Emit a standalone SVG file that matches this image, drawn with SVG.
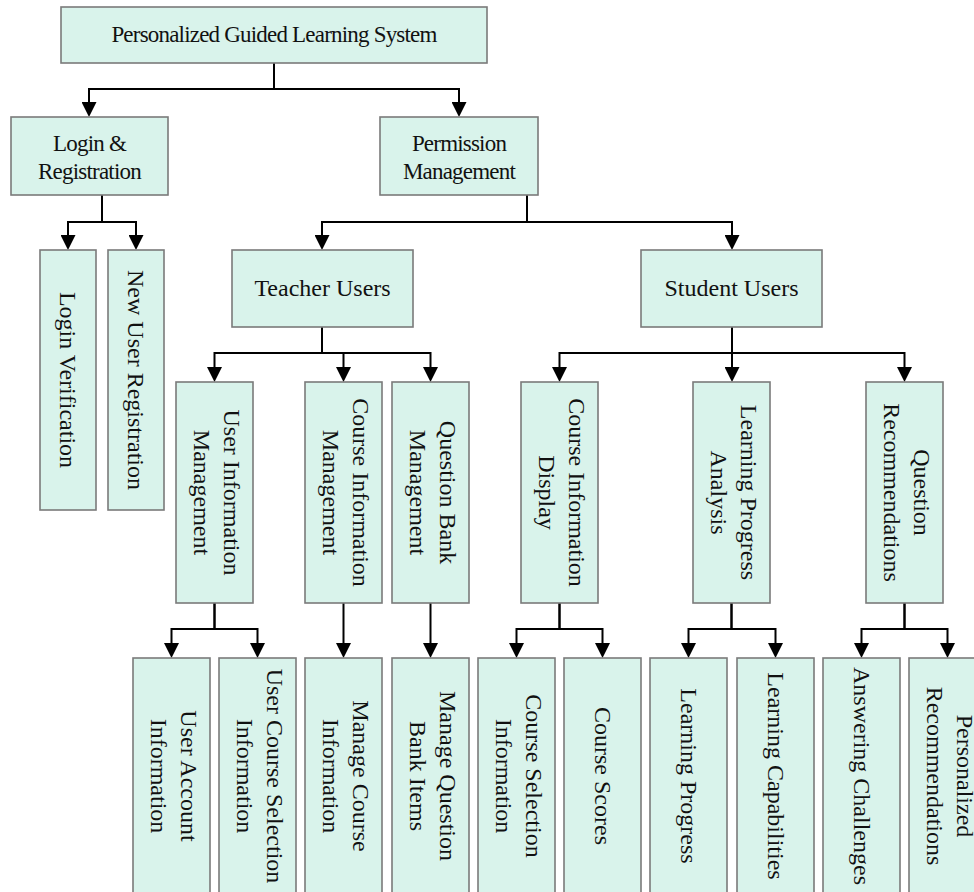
<svg xmlns="http://www.w3.org/2000/svg" width="974" height="892" viewBox="0 0 974 892">
  <style>
    .box { fill: #d9f3eb; stroke: #7a7a7a; stroke-width: 1.6; }
    .t { font-family: "Liberation Serif", "Times New Roman", serif; font-size: 24px; fill: #111; text-anchor: middle; }
    .ts { font-size: 23px; letter-spacing: -0.8px; }
    .link { fill: none; stroke: #000; stroke-width: 2; marker-end: url(#arr); }
  </style>
  <defs>
    <marker id="arr" viewBox="0 0 15 15" refX="12" refY="7.5" markerWidth="15" markerHeight="15" markerUnits="userSpaceOnUse" orient="auto">
      <path d="M0,0 L15,7.5 L0,15 Z" fill="#000"/>
    </marker>
  </defs>
  <rect width="974" height="892" fill="#fff"/>

  <!-- connectors -->
  <g id="connectors">
    <path class="link" d="M274,63 V89 H89 V114"/>
    <path class="link" d="M274,63 V89 H459 V114"/>
    <path class="link" d="M102,195 V222 H68 V247"/>
    <path class="link" d="M102,195 V222 H136 V247"/>
    <path class="link" d="M527,195 V222 H322 V247"/>
    <path class="link" d="M527,195 V222 H732 V247"/>
    <path class="link" d="M322,327 V353 H214.5 V379"/>
    <path class="link" d="M322,327 V353 H343.5 V379"/>
    <path class="link" d="M322,327 V353 H430.5 V379"/>
    <path class="link" d="M732,327 V353 H559.5 V379"/>
    <path class="link" d="M732,327 V379"/>
    <path class="link" d="M732,327 V353 H904.5 V379"/>
    <path class="link" d="M214.5,603 V629 H171.5 V655"/>
    <path class="link" d="M214.5,603 V629 H257.5 V655"/>
    <path class="link" d="M343.5,603 V655"/>
    <path class="link" d="M430.5,603 V655"/>
    <path class="link" d="M559.5,603 V629 H516.5 V655"/>
    <path class="link" d="M559.5,603 V629 H602.5 V655"/>
    <path class="link" d="M731.5,603 V629 H688.5 V655"/>
    <path class="link" d="M731.5,603 V629 H775.5 V655"/>
    <path class="link" d="M904.5,603 V629 H861.5 V655"/>
    <path class="link" d="M904.5,603 V629 H947.5 V655"/>
  </g>

  <!-- top level -->
  <g id="root">
    <rect class="box" x="61" y="7" width="426" height="56"/>
    <text class="t ts" x="274" y="42">Personalized Guided Learning System</text>
  </g>
  <g id="login">
    <rect class="box" x="11" y="117" width="157" height="78"/>
    <text class="t ts" x="89.5" y="151">Login &amp;</text>
    <text class="t ts" x="89.5" y="178.5">Registration</text>
  </g>
  <g id="permission">
    <rect class="box" x="380" y="117" width="158" height="78"/>
    <text class="t ts" x="459" y="151">Permission</text>
    <text class="t ts" x="459" y="178.5">Management</text>
  </g>

  <!-- login branch -->
  <g id="login-verification">
    <rect class="box" x="40" y="250" width="56" height="260"/>
    <text class="t" transform="translate(68,380) rotate(90)" y="8">Login Verification</text>
  </g>
  <g id="new-user-registration">
    <rect class="box" x="108" y="250" width="56" height="260"/>
    <text class="t" transform="translate(136,380) rotate(90)" y="8">New User Registration</text>
  </g>

  <!-- user roles -->
  <g id="teacher-users">
    <rect class="box" x="232" y="250" width="181" height="77"/>
    <text class="t" x="322.5" y="296">Teacher Users</text>
  </g>
  <g id="student-users">
    <rect class="box" x="641" y="250" width="181" height="77"/>
    <text class="t" x="731.5" y="296">Student Users</text>
  </g>

  <!-- teacher functions -->
  <g id="user-information-management">
    <rect class="box" x="176" y="382" width="77" height="221"/>
    <g class="t" transform="translate(214.5,492.5) rotate(90)">
      <text y="-9">User Information</text>
      <text y="21">Management</text>
    </g>
  </g>
  <g id="course-information-management">
    <rect class="box" x="305" y="382" width="77" height="221"/>
    <g class="t" transform="translate(343.5,492.5) rotate(90)">
      <text y="-9">Course Information</text>
      <text y="21">Management</text>
    </g>
  </g>
  <g id="question-bank-management">
    <rect class="box" x="392" y="382" width="77" height="221"/>
    <g class="t" transform="translate(430.5,492.5) rotate(90)">
      <text y="-9">Question Bank</text>
      <text y="21">Management</text>
    </g>
  </g>

  <!-- student functions -->
  <g id="course-information-display">
    <rect class="box" x="521" y="382" width="77" height="221"/>
    <g class="t" transform="translate(559.5,492.5) rotate(90)">
      <text y="-9">Course Information</text>
      <text y="21">Display</text>
    </g>
  </g>
  <g id="learning-progress-analysis">
    <rect class="box" x="693" y="382" width="77" height="221"/>
    <g class="t" transform="translate(731.5,492.5) rotate(90)">
      <text y="-9">Learning Progress</text>
      <text y="21">Analysis</text>
    </g>
  </g>
  <g id="question-recommendations">
    <rect class="box" x="866" y="382" width="77" height="221"/>
    <g class="t" transform="translate(904.5,492.5) rotate(90)">
      <text y="-9">Question</text>
      <text y="21">Recommendations</text>
    </g>
  </g>

  <!-- leaf functions -->
  <g id="user-account-information">
    <rect class="box" x="133" y="658" width="77" height="236"/>
    <g class="t" transform="translate(171.5,776) rotate(90)">
      <text y="-9">User Account</text>
      <text y="21">Information</text>
    </g>
  </g>
  <g id="user-course-selection-information">
    <rect class="box" x="219" y="658" width="77" height="236"/>
    <g class="t" transform="translate(257.5,776) rotate(90)">
      <text y="-9">User Course Selection</text>
      <text y="21">Information</text>
    </g>
  </g>
  <g id="manage-course-information">
    <rect class="box" x="305" y="658" width="77" height="236"/>
    <g class="t" transform="translate(343.5,776) rotate(90)">
      <text y="-9">Manage Course</text>
      <text y="21">Information</text>
    </g>
  </g>
  <g id="manage-question-bank-items">
    <rect class="box" x="392" y="658" width="77" height="236"/>
    <g class="t" transform="translate(430.5,776) rotate(90)">
      <text y="-9">Manage Question</text>
      <text y="21">Bank Items</text>
    </g>
  </g>
  <g id="course-selection-information">
    <rect class="box" x="478" y="658" width="77" height="236"/>
    <g class="t" transform="translate(516.5,776) rotate(90)">
      <text y="-9">Course Selection</text>
      <text y="21">Information</text>
    </g>
  </g>
  <g id="course-scores">
    <rect class="box" x="564" y="658" width="77" height="236"/>
    <text class="t" transform="translate(602.5,776) rotate(90)" y="8">Course Scores</text>
  </g>
  <g id="learning-progress">
    <rect class="box" x="650" y="658" width="77" height="236"/>
    <text class="t" transform="translate(688.5,776) rotate(90)" y="8">Learning Progress</text>
  </g>
  <g id="learning-capabilities">
    <rect class="box" x="737" y="658" width="77" height="236"/>
    <text class="t" transform="translate(775.5,776) rotate(90)" y="8">Learning Capabilities</text>
  </g>
  <g id="answering-challenges">
    <rect class="box" x="823" y="658" width="77" height="236"/>
    <text class="t" transform="translate(861.5,776) rotate(90)" y="8">Answering Challenges</text>
  </g>
  <g id="personalized-recommendations">
    <rect class="box" x="909" y="658" width="77" height="236"/>
    <g class="t" transform="translate(947.5,776) rotate(90)">
      <text y="-9">Personalized</text>
      <text y="21">Recommendations</text>
    </g>
  </g>
</svg>
